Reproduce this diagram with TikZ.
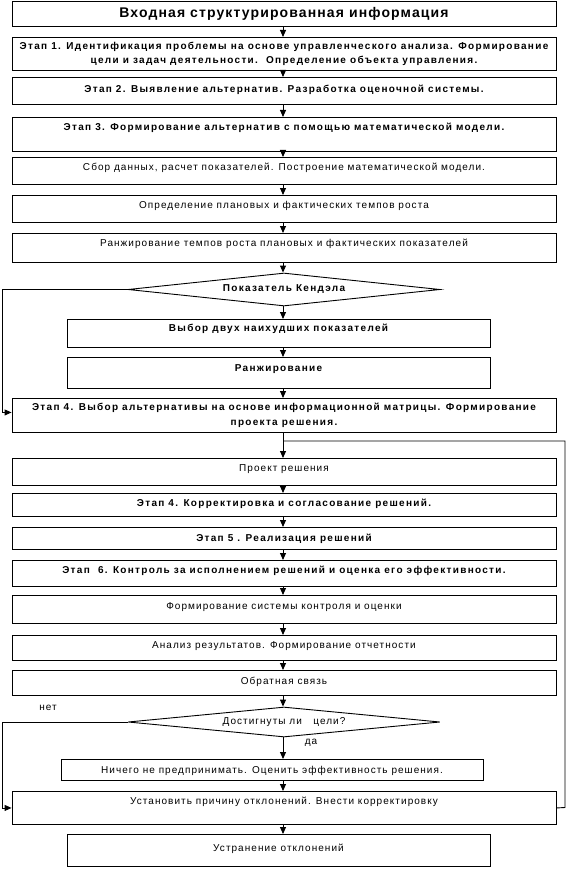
\documentclass[tikz,border=0pt]{standalone}
\usepackage{fontspec}
\setmainfont{Liberation Sans}[LetterSpace=10.5, BoldFeatures={LetterSpace=13}]
\newfontfamily\titlefont{Liberation Sans}[LetterSpace=8]
\usetikzlibrary{arrows.meta,shapes.geometric,calc}
\newcommand\mybox[7]{%
  \node[boxst, minimum width={#3-#2}, minimum height={#5-#4},
        text height={#6-#4+3.6}, text depth={#5-#6-3.6}]
        (#1) at ({(#2+#3)/2},#4) {#7};}
\newcommand\mytwobox[6]{%
  \node[boxst, minimum width={#3-#2}, minimum height={#5-#4}, align=center]
        (#1) at ({(#2+#3)/2},#4) {#6};}
\begin{document}
\begin{tikzpicture}[x=1pt,y=-1pt,
  boxst/.style={draw, line width=0.9pt, inner xsep=0pt, inner ysep=0pt, anchor=north,
                font=\fontsize{10}{14.5}\selectfont},
  dia/.style={draw, line width=0.9pt, diamond, aspect=10, inner sep=0pt,
              minimum width=312, minimum height=#1, font=\fontsize{10}{12}\selectfont},
  arr/.style={line width=0.9pt, -{Triangle[length=7pt,width=6pt]}},
  ln/.style={line width=0.9pt},
  lbl/.style={font=\fontsize{10}{12}\selectfont, inner sep=0pt}]
\fill[white] (0,0) rectangle (566,869);
\useasboundingbox (0,0) rectangle (566,869);
\coordinate (ax) at (283,0);

\mybox{title}{12}{556}{1}{26}{13}{\titlefont\fontsize{14}{16}\selectfont\bfseries Входная структурированная информация}
\mytwobox{s1}{12}{556}{37}{70}{\bfseries Этап 1. Идентификация проблемы на основе управленческого анализа. Формирование\\\bfseries цели и задач деятельности.\ \ Определение объекта управления.}
\mybox{s2}{12}{556}{77}{104}{88}{\bfseries Этап 2. Выявление альтернатив. Разработка оценочной системы.}
\mybox{s3}{12}{556}{117}{151}{126}{\bfseries Этап 3. Формирование альтернатив с помощью математической модели.}
\mybox{b4}{12}{556}{157}{184}{166}{Сбор данных, расчет показателей. Построение математической модели.}
\mybox{b5}{12}{556}{195}{222}{204}{Определение плановых и фактических темпов роста}
\mybox{b6}{12}{556}{233}{262}{242}{Ранжирование темпов роста плановых и фактических показателей}
\node[dia=33] (d1) at (284,289.5) {\bfseries Показатель Кендэла};
\mybox{b7}{67}{490}{319}{347}{327}{\bfseries Выбор двух наихудших показателей}
\mybox{b8}{67}{490}{357}{388}{367}{\bfseries Ранжирование}
\mytwobox{s4}{12}{556}{398}{432}{\bfseries Этап 4. Выбор альтернативы на основе информационной матрицы. Формирование\\\bfseries проекта решения.}
\mybox{b9}{12}{556}{458}{485}{467}{Проект решения}
\mybox{s5}{12}{556}{493}{516}{502}{\bfseries Этап 4. Корректировка и согласование решений.}
\mybox{s6}{12}{556}{527}{549}{537}{\bfseries Этап 5 . Реализация решений}
\mybox{s7}{12}{556}{560}{586}{569}{\bfseries Этап\ \ 6. Контроль за исполнением решений и оценка его эффективности.}
\mybox{b10}{12}{556}{595}{623}{605}{Формирование системы контроля и оценки}
\mybox{b11}{12}{556}{635}{660}{644}{Анализ результатов. Формирование отчетности}
\mybox{b12}{12}{556}{670}{695}{680}{Обратная связь}
\node[dia=30] (d2) at (284,722) {Достигнуты ли\ \ \ цели?};
\mybox{b13}{61}{483}{759}{780}{769}{Ничего не предпринимать. Оценить эффективность решения.}
\mybox{b14}{12}{556}{791}{824}{800}{Установить причину отклонений. Внести корректировку}
\mybox{b15}{67}{490}{834}{866}{847}{Устранение отклонений}

\node[lbl] (net) at (48,708) {нет};
\node[lbl] (da) at (311,743) {да};

\coordinate (L1) at (2.5,289.5);
\coordinate (L2) at (2.5,722);
\coordinate (R1) at (565,807.5);
\coordinate (J) at (283,441);

\foreach \a/\b in {title/s1,s1/s2,s2/s3,s3/b4,b4/b5,b5/b6,b6/d1,d1/b7,b7/b8,b8/s4,s4/b9,
                   b9/s5,s5/s6,s6/s7,s7/b10,b10/b11,b11/b12,b12/d2,d2/b13,b13/b14,b14/b15}
  \draw[arr] (\a.south -| ax) -- (\b.north -| ax);

\draw[arr] (d1.west) -- (L1) |- ([yshift=3pt]s4.west);
\draw[arr] (d2.west) -- (L2) |- (b14.west);
\draw[ln] (b14.east) -- (R1) |- (J);
\end{tikzpicture}
\end{document}
